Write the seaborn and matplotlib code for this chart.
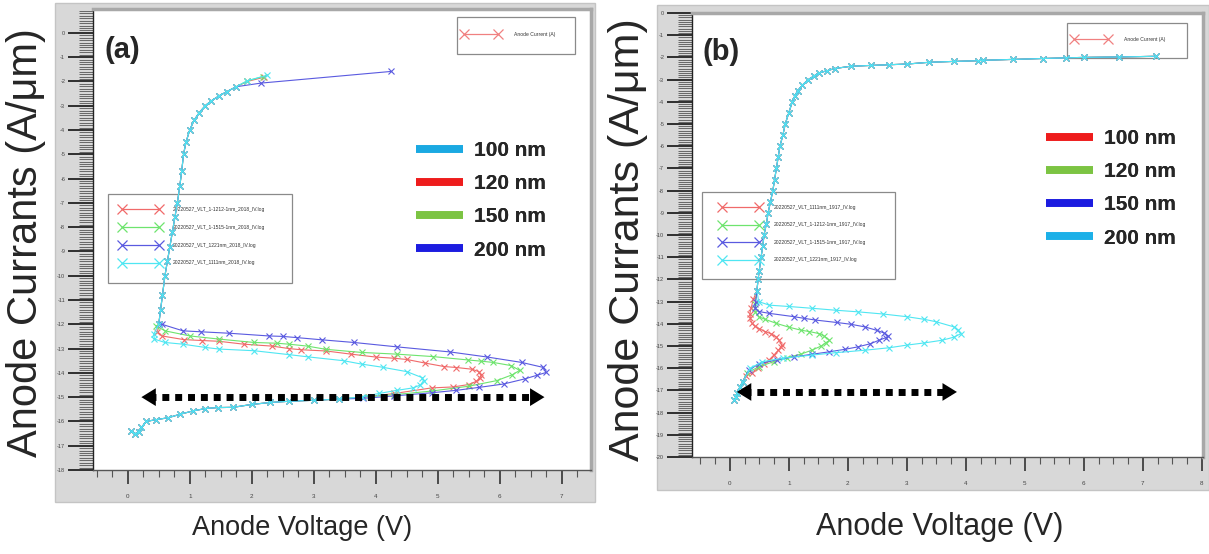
import numpy as np
import pandas as pd
import matplotlib
matplotlib.use("Agg")
import matplotlib.pyplot as plt
import seaborn as sns
from matplotlib.lines import Line2D
from matplotlib.patches import Rectangle
from matplotlib.ticker import MultipleLocator, FormatStrFormatter

sns.set_style("white")
plt.rcParams["font.family"] = ["Liberation Sans", "DejaVu Sans"]
plt.rcParams["axes.unicode_minus"] = False

W, H = 1209, 554
NARROW = ["Liberation Sans Narrow", "Liberation Sans", "DejaVu Sans"]

# ---------------- panel (a) data : anode voltage (V) / log anode current ----------------
steep_a_v = [0.5, 0.53, 0.56, 0.6, 0.64, 0.68, 0.72, 0.76, 0.8, 0.84, 0.87, 0.9, 0.94,
             1.0, 1.07, 1.15, 1.25, 1.35, 1.47, 1.6, 1.75]
steep_a_i = [-12.0, -11.4, -10.8, -10.0, -9.4, -8.8, -8.2, -7.6, -7.0, -6.3, -5.7, -5.0, -4.5,
             -4.0, -3.6, -3.3, -3.0, -2.8, -2.6, -2.42, -2.22]
tail_a_v = [0.06, 0.12, 0.18, 0.22, 0.3, 0.45, 0.65, 0.85, 1.05, 1.25, 1.45, 1.7, 2.0, 2.3, 2.6, 3.0, 3.4]
tail_a_i = [-16.4, -16.5, -16.45, -16.25, -16.0, -15.93, -15.85, -15.7, -15.57, -15.47, -15.43,
            -15.42, -15.3, -15.22, -15.17, -15.13, -15.08]

red_a_v = [3.8, 4.3, 4.9, 5.25, 5.5, 5.62, 5.68, 5.7, 5.66, 5.55, 5.3, 5.1, 4.8, 4.5, 4.3, 4.0,
           3.6, 3.2, 2.8, 2.6, 2.33, 1.87, 1.47, 1.2, 0.9, 0.55, 0.48, 1.93, 2.2]
red_a_i = [-15.0, -14.85, -14.62, -14.58, -14.48, -14.35, -14.2, -14.08, -13.95, -13.85, -13.78,
           -13.74, -13.6, -13.45, -13.4, -13.35, -13.23, -13.1, -13.05, -13.0, -12.9, -12.82,
           -12.7, -12.67, -12.63, -12.48, -12.3, -2.0, -1.83]
green_a_v = [3.8, 4.3, 4.9, 5.5, 5.95, 6.2, 6.32, 6.18, 5.89, 5.7, 5.49, 4.92, 4.34, 3.77, 3.19,
             2.9, 2.6, 2.4, 2.04, 1.47, 1.0, 0.6, 0.46, 1.93, 2.18]
green_a_i = [-15.0, -14.9, -14.75, -14.55, -14.32, -14.08, -13.9, -13.7, -13.57, -13.52, -13.47,
             -13.33, -13.23, -13.16, -13.03, -12.9, -12.82, -12.78, -12.75, -12.61, -12.48,
             -12.27, -12.07, -1.98, -1.8]
blue_a_v = [3.8, 4.3, 4.9, 5.3, 5.66, 6.06, 6.4, 6.6, 6.75, 6.69, 6.35, 5.8, 5.2, 4.34, 3.65, 3.13,
            2.73, 2.5, 2.27, 1.64, 1.18, 0.89, 0.55, 2.15, 4.25]
blue_a_i = [-15.05, -14.95, -14.82, -14.72, -14.6, -14.46, -14.25, -14.1, -13.98, -13.77, -13.57,
            -13.35, -13.14, -12.93, -12.75, -12.64, -12.55, -12.5, -12.48, -12.37, -12.31,
            -12.27, -12.0, -2.07, -1.59]
cyan_a_v = [3.77, 4.05, 4.34, 4.6, 4.72, 4.77, 4.75, 4.5, 4.11, 3.77, 3.48, 2.9, 2.6, 2.04, 1.47,
            1.24, 0.89, 0.6, 0.43, 0.42, 1.93, 2.25]
cyan_a_i = [-14.99, -14.85, -14.72, -14.62, -14.5, -14.32, -14.2, -13.95, -13.77, -13.64, -13.5,
            -13.34, -13.25, -13.09, -13.02, -12.95, -12.82, -12.75, -12.61, -12.41, -1.97, -1.75]

files_a = ["20220527_VLT_1-1212-1nm_2018_IV.log", "20220527_VLT_1-1515-1nm_2018_IV.log",
           "20220527_VLT_1221nm_2018_IV.log", "20220527_VLT_1111nm_2018_IV.log"]

# ---------------- panel (b) data ----------------
steep_b_v = [0.46, 0.48, 0.5, 0.53, 0.56, 0.58, 0.62, 0.65, 0.69, 0.73, 0.76, 0.79, 0.82, 0.85,
             0.9, 0.94, 1.0, 1.06, 1.1, 1.15, 1.23, 1.33, 1.42, 1.51, 1.65, 1.78, 2.05, 2.4, 2.7,
             3.0, 3.38, 3.8, 4.2, 4.3, 4.8, 5.3, 5.7, 6.0, 6.6, 7.22]
steep_b_i = [-12.5, -12.0, -11.6, -11.0, -10.5, -10.0, -9.5, -9.0, -8.5, -8.0, -7.5, -7.0, -6.5,
             -6.0, -5.5, -5.0, -4.5, -4.0, -3.75, -3.5, -3.25, -3.0, -2.85, -2.7, -2.6, -2.5,
             -2.4, -2.36, -2.33, -2.3, -2.22, -2.18, -2.15, -2.13, -2.09, -2.05, -2.02, -2.0,
             -1.98, -1.95]
tail_b_v = [0.08, 0.1, 0.13, 0.17, 0.22]
tail_b_i = [-17.45, -17.3, -17.1, -16.85, -16.6]

red_b_v = [0.28, 0.37, 0.48, 0.58, 0.67, 0.75, 0.82, 0.87, 0.88, 0.84, 0.79, 0.7, 0.6, 0.5, 0.42,
           0.37, 0.35, 0.34, 0.36, 0.4]
red_b_i = [-16.35, -16.2, -16.0, -15.8, -15.62, -15.4, -15.2, -15.05, -14.95, -14.75, -14.6,
           -14.45, -14.35, -14.22, -14.1, -13.95, -13.75, -13.55, -13.3, -12.9]
green_b_v = [0.3, 0.49, 0.75, 0.97, 1.2, 1.39, 1.55, 1.63, 1.69, 1.6, 1.51, 1.35, 1.21, 1.0, 0.79,
             0.6, 0.49, 0.43, 0.43]
green_b_i = [-16.2, -15.94, -15.7, -15.52, -15.37, -15.19, -15.0, -14.85, -14.74, -14.55, -14.44,
             -14.35, -14.29, -14.15, -13.98, -13.8, -13.68, -13.45, -13.1]
blue_b_v = [0.32, 0.49, 0.8, 1.09, 1.4, 1.69, 1.95, 2.17, 2.38, 2.53, 2.65, 2.68, 2.62, 2.5, 2.29,
            2.05, 1.81, 1.45, 1.25, 1.09, 0.67, 0.5, 0.43, 0.44]
blue_b_i = [-16.1, -15.8, -15.62, -15.49, -15.37, -15.26, -15.15, -15.04, -14.9, -14.74, -14.62,
            -14.55, -14.42, -14.3, -14.14, -14.02, -13.94, -13.83, -13.75, -13.68, -13.53,
            -13.45, -13.3, -13.0]
cyan_b_v = [0.35, 0.55, 0.9, 1.39, 1.8, 2.29, 2.7, 3.0, 3.3, 3.6, 3.8, 3.92, 3.87, 3.8, 3.5, 3.3,
            3.0, 2.6, 2.17, 1.8, 1.39, 1.0, 0.67, 0.49]
cyan_b_i = [-16.0, -15.71, -15.55, -15.41, -15.3, -15.19, -15.08, -14.96, -14.86, -14.74, -14.6,
            -14.44, -14.28, -14.14, -13.91, -13.8, -13.68, -13.56, -13.46, -13.39, -13.3,
            -13.22, -13.16, -13.0]

files_b = ["20220527_VLT_1111nm_1917_IV.log", "20220527_VLT_1-1212-1nm_1917_IV.log",
           "20220527_VLT_1-1515-1nm_1917_IV.log", "20220527_VLT_1221nm_1917_IV.log"]

line_colors = ["#f06a6a", "#6ee46e", "#5a5ae0", "#4fe6f2"]

sizes_a = ["100 nm", "120 nm", "150 nm", "200 nm"]
size_colors_a = ["#1aa9e2", "#ee1c1c", "#7cc443", "#1c1ce0"]
sizes_b = ["100 nm", "120 nm", "150 nm", "200 nm"]
size_colors_b = ["#ee1c1c", "#7cc443", "#1c1ce0", "#1cb0e8"]

arrow_a = (0.22, 6.72, -15.0)
arrow_b = (0.12, 3.85, -17.07)


def build_table(files, pieces):
    frames = []
    for name, (v, i) in zip(files, pieces):
        frames.append(pd.DataFrame({"file": name, "V": v, "I": i}))
    return pd.concat(frames, ignore_index=True)


# lower branch tail -> own loop -> steep branch; blue (a) gets its own top
pieces_a = [
    (tail_a_v + red_a_v[:-2] + steep_a_v + red_a_v[-2:], tail_a_i + red_a_i[:-2] + steep_a_i + red_a_i[-2:]),
    (tail_a_v + green_a_v[:-2] + steep_a_v + green_a_v[-2:], tail_a_i + green_a_i[:-2] + steep_a_i + green_a_i[-2:]),
    (tail_a_v + blue_a_v[:-2] + steep_a_v + blue_a_v[-2:], tail_a_i + blue_a_i[:-2] + steep_a_i + blue_a_i[-2:]),
    (tail_a_v + cyan_a_v[:-2] + steep_a_v + cyan_a_v[-2:], tail_a_i + cyan_a_i[:-2] + steep_a_i + cyan_a_i[-2:]),
]
pieces_b = [
    (tail_b_v + red_b_v + steep_b_v, tail_b_i + red_b_i + steep_b_i),
    (tail_b_v + green_b_v + steep_b_v, tail_b_i + green_b_i + steep_b_i),
    (tail_b_v + blue_b_v + steep_b_v, tail_b_i + blue_b_i + steep_b_i),
    (tail_b_v + cyan_b_v + steep_b_v, tail_b_i + cyan_b_i + steep_b_i),
]
df_a = build_table(files_a, pieces_a)
df_b = build_table(files_b, pieces_b)


def fx(px):
    return px / W


def fy(py):
    return 1 - py / H


fig = plt.figure(figsize=(W / 100, H / 100), dpi=100)

# gray software windows behind each plot
for (x0, y0, x1, y1) in [(55, 3, 595, 502), (657, 5, 1209, 490)]:
    fig.add_artist(Rectangle((fx(x0), fy(y1)), (x1 - x0) / W, (y1 - y0) / H,
                             transform=fig.transFigure, facecolor="#d8d8d8",
                             edgecolor="#c4c4c4", lw=1, zorder=0))

ax_a = fig.add_axes([fx(93), fy(470), (591 - 93) / W, (470 - 9) / H])
ax_b = fig.add_axes([fx(692), fy(457), (1203 - 692) / W, (457 - 13) / H])


def draw_panel(ax, df, files, xlim, ylim):
    for name, c in zip(files, line_colors):
        sub = df[df["file"] == name]
        sns.lineplot(data=sub, x="V", y="I", sort=False, estimator=None, color=c,
                     marker="x", markersize=5, markeredgewidth=0.8, linewidth=0.8,
                     markeredgecolor=c, ax=ax, legend=False, zorder=3)
    ax.set_xlim(*xlim)
    ax.set_ylim(*ylim)
    ax.set_xlabel("")
    ax.set_ylabel("")
    ax.set_facecolor("white")
    ax.xaxis.set_major_locator(MultipleLocator(1))
    ax.xaxis.set_minor_locator(MultipleLocator(0.25))
    ax.yaxis.set_major_locator(MultipleLocator(1))
    ax.yaxis.set_minor_locator(MultipleLocator(0.1))
    ax.xaxis.set_major_formatter(FormatStrFormatter("%d"))
    ax.yaxis.set_major_formatter(FormatStrFormatter("%d"))
    ax.tick_params(axis="y", which="major", direction="out", length=18, width=1.3,
                   color="#222222", labelsize=4, labelcolor="#444444", pad=2, left=True)
    ax.tick_params(axis="y", which="minor", direction="out", length=10, width=0.6,
                   color="#555555", left=True)
    ax.tick_params(axis="x", which="major", direction="out", length=10, width=1.2,
                   color="#333333", labelsize=4.5, labelcolor="#444444", pad=7, bottom=True)
    ax.tick_params(axis="x", which="minor", direction="out", length=5, width=0.8,
                   color="#555555", bottom=True)
    for s in ["top", "right"]:
        ax.spines[s].set_color("#a8a8a8")
        ax.spines[s].set_linewidth(2.5)
    ax.spines["left"].set_color("#222222")
    ax.spines["left"].set_linewidth(1)
    ax.spines["bottom"].set_color("#555555")
    ax.spines["bottom"].set_linewidth(1)


def draw_arrow(ax, spec):
    x0, x1, y = spec
    ax.plot([x0 + 0.12, x1 - 0.12], [y, y], color="black", lw=5, ls=(0, (1.0, 0.85)), zorder=4)
    for tip, back in [(x0, x0 + 0.05), (x1, x1 - 0.05)]:
        ax.annotate("", xy=(tip, y), xytext=(back, y), zorder=4,
                    arrowprops=dict(arrowstyle="-|>,head_length=0.65,head_width=0.4",
                                    mutation_scale=16, color="black", lw=0,
                                    shrinkA=0, shrinkB=0))


def boxed_legend(ax, box, handles, labels, anchor, fontsize, handlelength,
                 handletextpad, labelspacing):
    x0, y0, x1, y1 = box
    ax.add_artist(Rectangle((fx(x0), fy(y1)), (x1 - x0) / W, (y1 - y0) / H,
                            transform=fig.transFigure, facecolor="white",
                            edgecolor="#8a8a8a", lw=0.9, zorder=1.2))
    leg = ax.legend(handles, labels, loc="upper left", bbox_to_anchor=(fx(anchor[0]), fy(anchor[1])),
                    bbox_transform=fig.transFigure, frameon=False, numpoints=2, borderpad=0,
                    borderaxespad=0, prop={"family": NARROW, "size": fontsize},
                    handlelength=handlelength, handletextpad=handletextpad,
                    labelspacing=labelspacing)
    leg.set_zorder(1.3)
    for t in leg.get_texts():
        t.set_color("#333333")
    ax.add_artist(leg)
    return leg


def size_legend(ax, labels, colors, anchor):
    handles = [Line2D([], [], color=c, lw=5.5, solid_capstyle="butt") for c in colors]
    leg = ax.legend(handles, labels, loc="upper left", bbox_to_anchor=(fx(anchor[0]), fy(anchor[1])),
                    bbox_transform=fig.transFigure, frameon=False, borderpad=0, borderaxespad=0,
                    prop={"family": NARROW, "size": 15, "weight": "bold"},
                    handlelength=2.25, handletextpad=0.55, labelspacing=0.68)
    ax.add_artist(leg)


def xhandle(c):
    return Line2D([], [], color=c, lw=0.9, marker="x", markersize=7, markeredgewidth=0.9)


draw_panel(ax_a, df_a, files_a, (-0.56, 7.47), (-18, 0.98))
draw_panel(ax_b, df_b, files_b, (-0.64, 8.02), (-20, 0.0))
draw_arrow(ax_a, arrow_a)
draw_arrow(ax_b, arrow_b)

boxed_legend(ax_a, (108, 194, 292, 283), [xhandle(c) for c in line_colors], files_a,
             (120, 207), 3.6, 8.0, 2.6, 2.55)
boxed_legend(ax_b, (702, 192, 895, 279), [xhandle(c) for c in line_colors], files_b,
             (720, 205), 3.6, 8.0, 2.8, 2.5)
boxed_legend(ax_a, (457, 17, 575, 54), [xhandle("#f08080")], ["Anode Current (A)"],
             (462, 32), 3.6, 7.5, 3.0, 1.0)
boxed_legend(ax_b, (1067, 23, 1187, 58), [xhandle("#f08080")], ["Anode Current (A)"],
             (1072, 37), 3.6, 7.5, 3.0, 1.0)

size_legend(ax_a, sizes_a, size_colors_a, (416, 141))
size_legend(ax_b, sizes_b, size_colors_b, (1046, 129))

# panel tags and axis titles
fig.text(fx(104), fy(50), "(a)", family=NARROW, fontsize=21, fontweight="bold", va="center", ha="left")
fig.text(fx(702), fy(52), "(b)", family=NARROW, fontsize=21, fontweight="bold", va="center", ha="left")

fig.text(fx(26), fy(243), "Anode Currants (A/μm)", rotation=90, fontsize=30, ha="center", va="center")
fig.text(fx(628), fy(240), "Anode Currants (A/μm)", rotation=90, fontsize=31, ha="center", va="center")
fig.text(fx(302), fy(528), "Anode Voltage (V)", family=NARROW, fontsize=19.5, ha="center", va="center")
fig.text(fx(940), fy(527), "Anode Voltage (V)", fontsize=22, ha="center", va="center")

fig.savefig("out.png", dpi=100)
